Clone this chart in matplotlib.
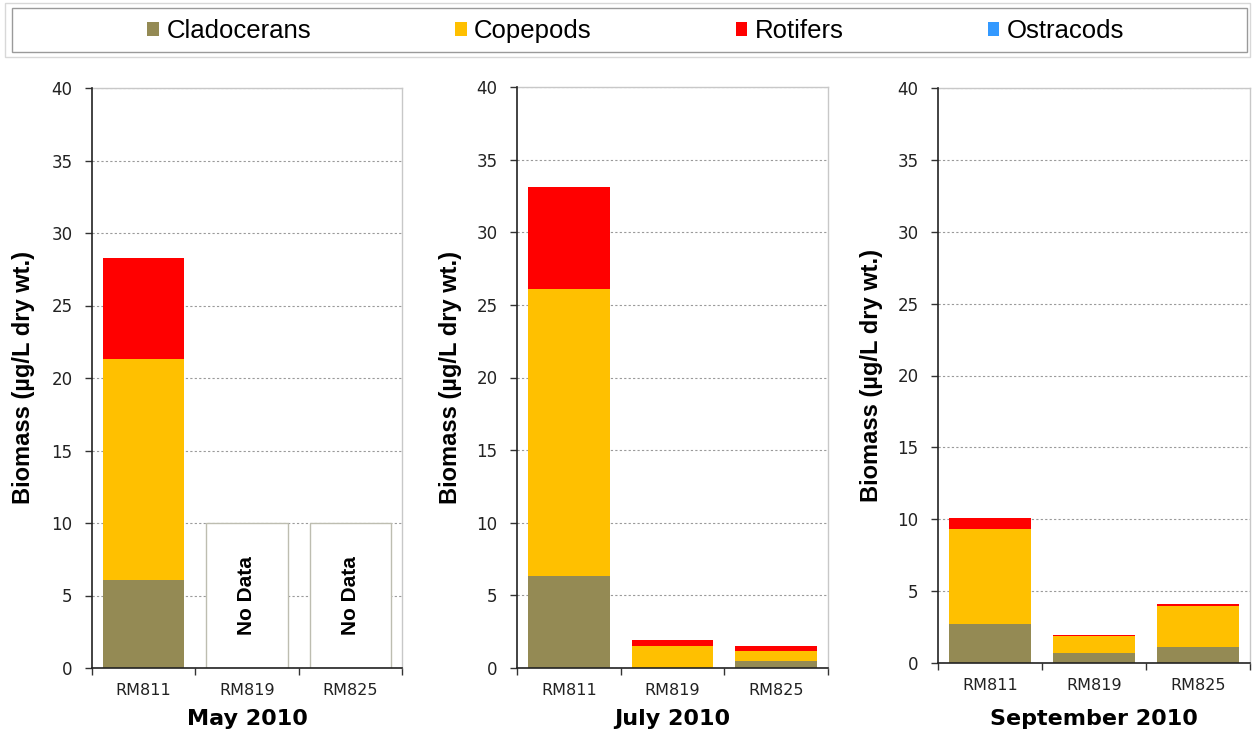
import matplotlib
matplotlib.use("Agg")
import matplotlib.pyplot as plt
import numpy as np
from matplotlib.patches import Rectangle, Patch

# values (ug/L dry wt.)
sites = ["RM811", "RM819", "RM825"]
months = ["May 2010", "July 2010", "September 2010"]
taxa = ["Cladocerans", "Copepods", "Rotifers", "Ostracods"]
colors = ["#948A54", "#FFC000", "#FF0000", "#3399FF"]

cladocerans = [[6.1, 0.0, 0.0], [6.3, 0.0, 0.5], [2.7, 0.7, 1.1]]
copepods = [[15.2, 0.0, 0.0], [19.8, 1.5, 0.65], [6.6, 1.15, 2.9]]
rotifers = [[7.0, 0.0, 0.0], [7.0, 0.4, 0.35], [0.8, 0.08, 0.08]]
ostracods = [[0.0, 0.0, 0.0], [0.0, 0.0, 0.0], [0.0, 0.05, 0.05]]
no_data = [[False, True, True], [False, False, False], [False, False, False]]
no_data_height = 10

series = [cladocerans, copepods, rotifers, ostracods]

W, H = 1254, 742
fig = plt.figure(figsize=(W / 100, H / 100), dpi=100)

# axes boxes in pixels: left, top(40), right, bottom(0)
boxes = [(92, 88, 402, 668), (517, 87, 828, 668), (938, 88, 1250, 663)]
label_x = [-0.183, -0.177, -0.175]

x = np.arange(len(sites))
bar_w = 0.79

for i, (l, t, r, b) in enumerate(boxes):
    ax = fig.add_axes([l / W, 1 - b / H, (r - l) / W, (b - t) / H])
    bottom = np.zeros(len(sites))
    for k, s in enumerate(series):
        vals = np.array(s[i])
        ax.bar(x, vals, bar_w, bottom=bottom, color=colors[k], linewidth=0, zorder=3)
        bottom += vals
    for j, nd in enumerate(no_data[i]):
        if nd:
            ax.bar(x[j], no_data_height, bar_w, color="white", edgecolor="#BDBDB0",
                   linewidth=1.0, zorder=3)
            ax.text(x[j], no_data_height / 2, "No Data", rotation=90, ha="center",
                    va="center", fontsize=15, fontweight="bold",
                    family="Liberation Sans", zorder=4)

    ax.set_xlim(-0.5, 2.5)
    ax.set_ylim(0, 40)
    ax.set_yticks(range(0, 41, 5))
    ax.yaxis.grid(True, linestyle=(0, (2, 2)), color="#9A9A9A", linewidth=0.8, zorder=0)
    ax.set_axisbelow(True)
    ax.tick_params(axis="y", labelsize=12, length=5, width=1, color="#333333", pad=9,
                   labelcolor="#222222")
    ax.set_xticks(x)
    ax.set_xticklabels(sites)
    ax.set_xticks([-0.5, 0.5, 1.5, 2.5], minor=True)
    ax.tick_params(axis="x", which="major", length=0, labelsize=11.5, pad=11,
                   labelcolor="#222222")
    ax.tick_params(axis="x", which="minor", length=5, width=1, color="#333333")
    for side in ("left", "bottom"):
        ax.spines[side].set_color("#222222")
        ax.spines[side].set_linewidth(1.2)
        ax.spines[side].set_zorder(5)
    for side in ("top", "right"):
        ax.spines[side].set_color("#C8C8C8")
        ax.spines[side].set_linewidth(1.0)

    ax.set_ylabel("Biomass (\u00b5g/L dry wt.)", fontsize=17, fontweight="bold",
                  family="Liberation Sans")
    ax.yaxis.set_label_coords(label_x[i], 0.5)
    ax.set_xlabel(months[i], fontsize=16, fontweight="bold")
    ax.xaxis.set_label_coords(0.5, -(709 - b) / (b - t))

# legend box across the top
fig.patches.append(Rectangle((5 / W, 1 - 57 / H), 1245 / W, 54 / H, transform=fig.transFigure,
                             facecolor="none", edgecolor="#D8D8D8", linewidth=1.0))
fig.patches.append(Rectangle((12 / W, 1 - 52 / H), 1235 / W, 44 / H, transform=fig.transFigure,
                             facecolor="white", edgecolor="#9A9A9A", linewidth=1.0))
handles = [Patch(facecolor=c, edgecolor="none") for c in colors]
fig.legend(handles, taxa, loc="center", bbox_to_anchor=(0.507, 1 - 31 / H), ncol=4,
           frameon=False, prop={"family": "Liberation Sans", "size": 18.5},
           handlelength=0.45, handleheight=0.5, handletextpad=0.3, columnspacing=5.6)

fig.savefig("out.png", dpi=100)
